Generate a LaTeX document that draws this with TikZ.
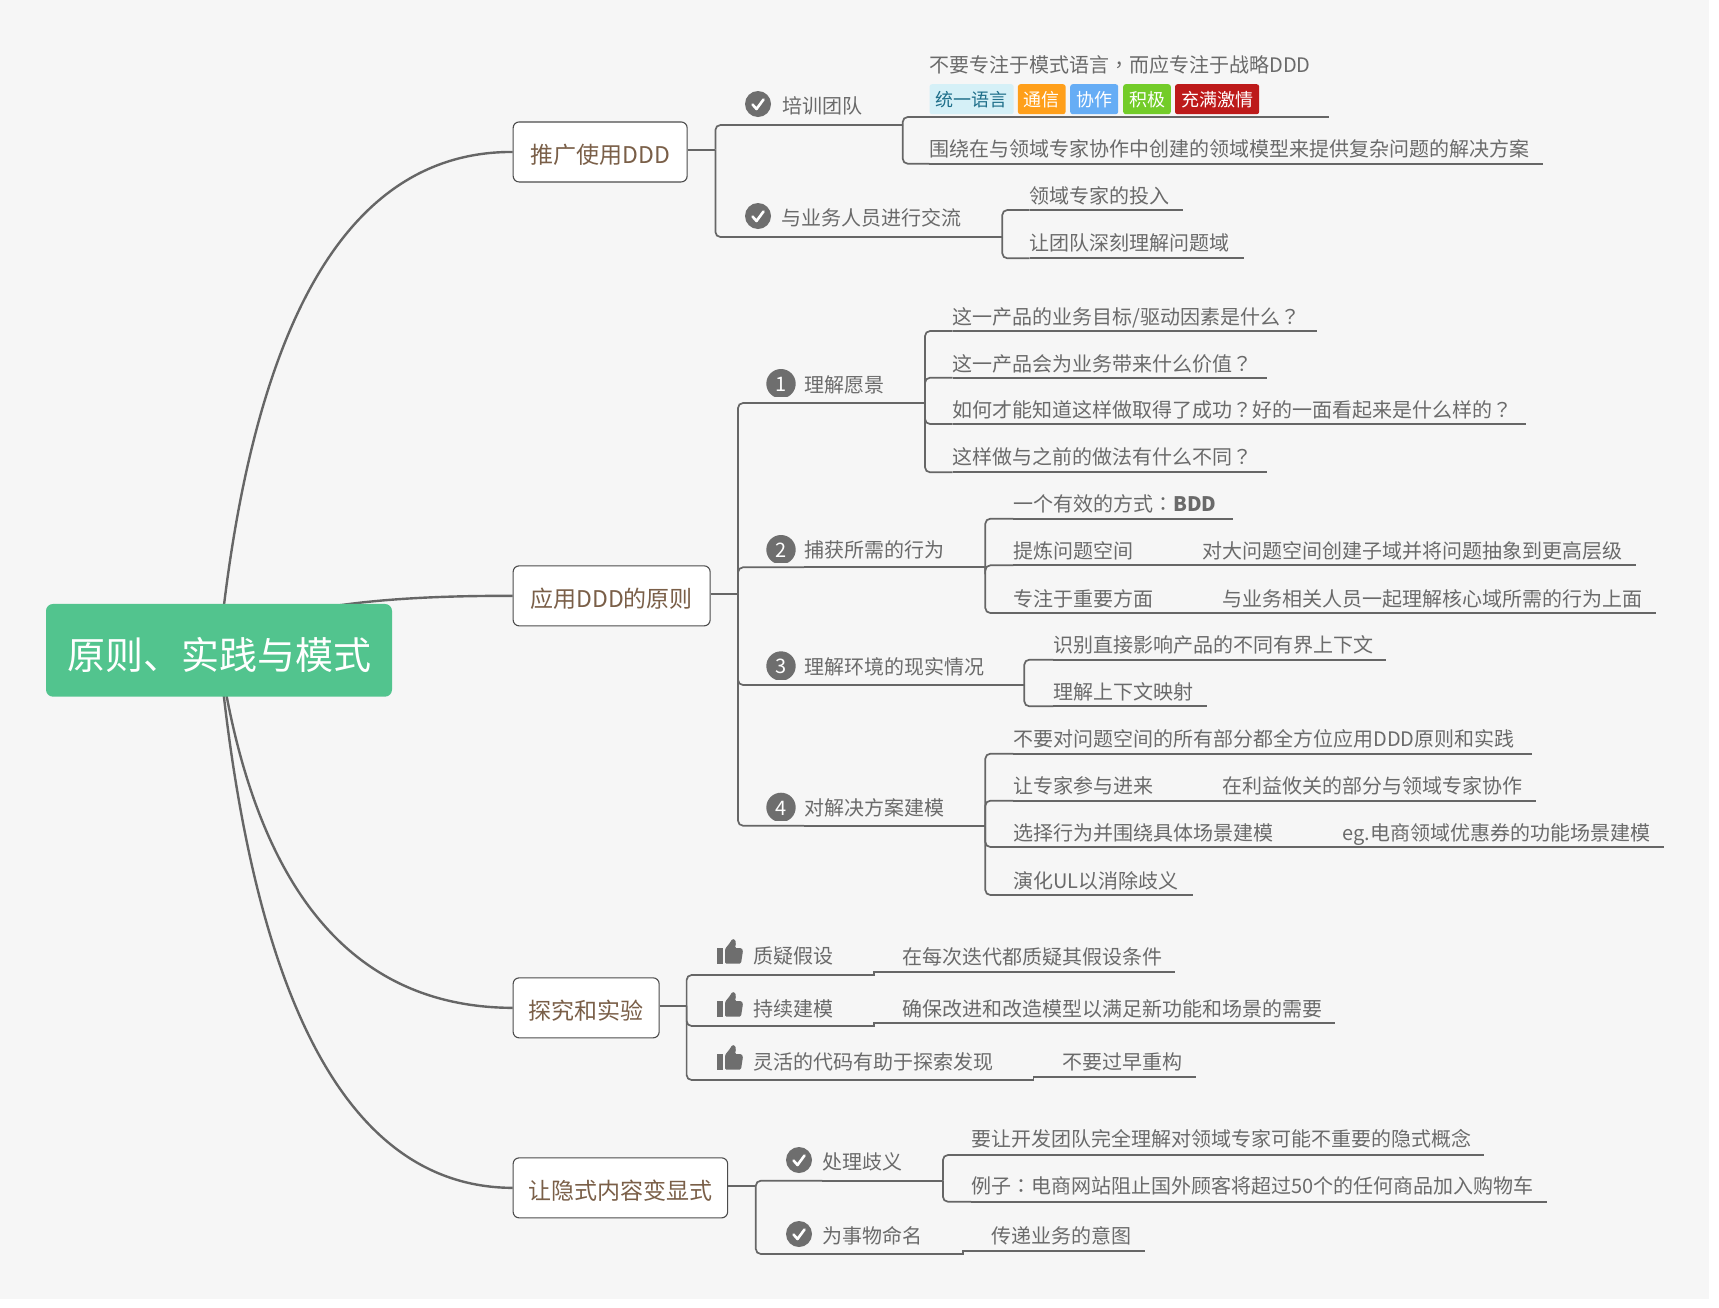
\documentclass[tikz,border=0pt]{standalone}
\usepackage{fontspec}
\setmainfont{Noto Sans CJK SC}
\newfontfamily\pf{Noto Sans CJK TC}
\usetikzlibrary{backgrounds}
\definecolor{bgc}{HTML}{F6F6F6}
\definecolor{linec}{HTML}{666666}
\definecolor{textc}{HTML}{6A6A6A}
\definecolor{brownc}{HTML}{7A5F48}
\definecolor{rootc}{HTML}{52C48E}
\definecolor{iconc}{HTML}{6E6E6E}
\definecolor{tagA}{HTML}{D5F0F7}
\definecolor{tagAt}{HTML}{1F6F8A}
\definecolor{tagB}{HTML}{FF9F1A}
\definecolor{tagC}{HTML}{66ADF5}
\definecolor{tagD}{HTML}{73CC29}
\definecolor{tagE}{HTML}{BD1A1A}
\tikzset{
  rootbox/.style={rectangle,rounded corners=7pt,fill=rootc,text=white,minimum width=346pt,minimum height=92.7pt,inner sep=0pt,text height=38.2pt,text depth=0pt,font=\fontsize{38pt}{44pt}\selectfont},
  mainbox/.style={rectangle,rounded corners=6pt,fill=white,draw=black!70,line width=1.1pt,text=brownc,minimum height=60pt,inner sep=0pt,anchor=north west,text height=23.4pt,text depth=0pt,font=\fontsize{23pt}{28pt}\selectfont},
  textline/.style={rectangle,inner sep=0pt,outer sep=0pt,anchor=south west,text=textc,text height=18pt,font=\fontsize{20pt}{24pt}\selectfont},
  curve/.style={draw=linec,line width=2.4pt},
  conn/.style={draw=linec,line width=1.7pt},
  elbow/.style={conn,rounded corners=5pt},
  tagbox/.style={rectangle,rounded corners=2.5pt,inner sep=0pt,minimum height=30pt,anchor=north west,font=\fontsize{18pt}{22pt}\selectfont},
  numdigit/.style={circle,inner sep=0pt,text=white,font=\fontsize{20pt}{24pt}\selectfont},
  checkicon/.pic={
    \fill[iconc] (0,0) circle (13);
    \draw[white,line width=2.6pt,line cap=round,line join=round] (-5.5,0.5) -- (-1.5,5) -- (5.5,-4.5);
  },
  numicon/.pic={
    \begin{scope}
      \clip (-16,-16) rectangle (16,13);
      \fill[iconc] (0,0) circle (14.7);
    \end{scope}
  },
  thumbicon/.pic={
    \fill[iconc] (0,9) rectangle (6,24.5);
    \fill[iconc,rounded corners=1.2pt] (8,10) -- (13.5,3) -- (15,0) -- (18,0.5) -- (19,4) -- (18,9) -- (24.5,9) -- (26,11.5) -- (24,24.5) -- (8,24.5) -- cycle;
  },
}
\newcommand{\tnode}[6][7]{%
  \pgfmathsetmacro{\mywidth}{#5-#3}%
  \node[textline,text depth=#1pt] (#2) at (#3,#4) {\makebox[\mywidth pt][l]{#6}};%
  \begin{scope}[on background layer]\draw[conn] (#2.south west) -- (#2.south east);\end{scope}%
}
\begin{document}
\begin{tikzpicture}[x=1pt,y=-1pt]
\useasboundingbox (0,0) rectangle (1719,1307);
\begin{scope}[on background layer]
  \fill[white] (0,0) rectangle (1719,1307);
  \fill[bgc] (0,0) rectangle (1709,1299);
\end{scope}

% root and main topics
\node[rootbox] (root) at (219,650.3) {原则、实践与模式};
\node[mainbox,minimum width=174pt] (T1) at (512.6,121.4) {推广使用DDD};
\node[mainbox,minimum width=197pt] (T2) at (512.6,565.3) {应用DDD的原则};
\node[mainbox,minimum width=146pt] (T3) at (512.6,977.3) {探究和实验};
\node[mainbox,minimum width=214.5pt] (T4) at (512.6,1157.3) {让隐式内容变显式};

\begin{scope}[on background layer]
  \draw[curve] (root.center) .. controls (251.8,318) and (349.5,151.4) .. (T1.west);
  \draw[curve] (root.center) .. controls (251.8,613.3) and (349.3,595.3) .. (T2.west);
  \draw[curve] (root.center) .. controls (253.2,888.2) and (350.8,1007.3) .. (T3.west);
  \draw[curve] (root.center) .. controls (253.2,1008) and (350.8,1187.3) .. (T4.west);
\end{scope}

% section 1
\coordinate (t1) at (715.4,149.7);
\tnode[11.8]{b11}{782}{125}{874}{培训团队}
\tnode[11.8]{b12}{781.3}{237}{972.8}{与业务人员进行交流}
\coordinate (e11) at (902.7,125);
\coordinate (e12) at (1002.3,237);
\tnode[44.3]{l111}{929.3}{117}{1329}{不要专注于模式语言{\pf ，}而应专注于战略DDD}
\tnode{l112}{929.3}{163.7}{1543}{围绕在与领域专家协作中创建的领域模型来提供复杂问题的解决方案}
\tnode{l121}{1029.6}{210}{1183}{领域专家的投入}
\tnode[8]{l122}{1029.6}{258.3}{1243.6}{让团队深刻理解问题域}
\node[tagbox,fill=tagA,text=tagAt,minimum width=84.2pt] (tag1) at (929.3,84) {统一语言};
\node[tagbox,fill=tagB,text=white,minimum width=47.7pt] (tag2) at (1017.7,84) {通信};
\node[tagbox,fill=tagC,text=white,minimum width=48pt] (tag3) at (1070,84) {协作};
\node[tagbox,fill=tagD,text=white,minimum width=47.6pt] (tag4) at (1123,84) {积极};
\node[tagbox,fill=tagE,text=white,minimum width=84.2pt] (tag5) at (1174.8,84) {充满激情};

\pic at (758,104) {checkicon};
\pic at (758,216) {checkicon};

\begin{scope}[on background layer]
  \draw[conn] (T1.east |- t1) -- (t1);
  \draw[elbow] (b11.south west) -| (t1);
  \draw[elbow] (b12.south west) -| (t1);
  \draw[conn] (b11.south east) -- (e11);
  \draw[conn] (b12.south east) -- (e12);
  \draw[elbow] (l111.south west) -| (e11);
  \draw[elbow] (l112.south west) -| (e11);
  \draw[elbow] (l121.south west) -| (e12);
  \draw[elbow] (l122.south west) -| (e12);
\end{scope}

% section 2
\coordinate (t2) at (738,593.7);
\tnode[10.3]{b21}{804}{403}{897.3}{理解愿景}
\tnode[10.3]{b22}{804}{567.3}{957.3}{捕获所需的行为}
\tnode[10.3]{b23}{804}{685}{996.7}{理解环境的现实情况}
\tnode[10.3]{b24}{804}{825.7}{957.3}{对解决方案建模}
\coordinate (e21) at (925,403);
\coordinate (e22) at (985.3,567.3);
\coordinate (e23) at (1024.3,685);
\coordinate (e24) at (985.3,825.7);

\tnode{l211}{952.7}{331}{1316.7}{这一产品的业务目标/驱动因素是什么{\pf ？}}
\tnode[6.2]{l212}{952.7}{377.7}{1266.7}{这一产品会为业务带来什么价值{\pf ？}}
\tnode[6.2]{l213}{952.7}{424}{1526.3}{如何才能知道这样做取得了成功{\pf ？}好的一面看起来是什么样的{\pf ？}}
\tnode[7.5]{l214}{952.7}{472.3}{1266.7}{这样做与之前的做法有什么不同{\pf ？}}

\tnode{l221}{1013.3}{518.7}{1232.7}{一个有效的方式{\pf ：}\textbf{BDD}}
\tnode{l222}{1013.3}{565.3}{1146.7}{提炼问题空间}
\tnode{l222a}{1202.7}{565.3}{1635.7}{对大问题空间创建子域并将问题抽象到更高层级}
\tnode{l223}{1013.3}{613}{1165.7}{专注于重要方面}
\tnode{l223a}{1222.3}{613}{1655.7}{与业务相关人员一起理解核心域所需的行为上面}

\tnode{l231}{1053.3}{659.7}{1386.3}{识别直接影响产品的不同有界上下文}
\tnode{l232}{1053.3}{706.3}{1206.7}{理解上下文映射}

\tnode{l241}{1013.3}{753.7}{1532.3}{不要对问题空间的所有部分都全方位应用DDD原则和实践}
\tnode{l242}{1013.3}{800.7}{1165.7}{让专家参与进来}
\tnode{l242a}{1222.3}{800.7}{1535.7}{在利益攸关的部分与领域专家协作}
\tnode{l243}{1013.3}{847}{1285.7}{选择行为并围绕具体场景建模}
\tnode{l243a}{1342.3}{847}{1664}{eg.电商领域优惠券的功能场景建模}
\tnode{l244}{1013.3}{895}{1193.3}{演化UL以消除歧义}

\pic at (781,383.7) {numicon};
\pic at (781,549.7) {numicon};
\pic at (781,666) {numicon};
\pic at (781,807.4) {numicon};
\node[numdigit] (n1) at (781,384.2) {1};
\node[numdigit] (n2) at (781,550.2) {2};
\node[numdigit] (n3) at (781,666.5) {3};
\node[numdigit] (n4) at (781,807.9) {4};

\begin{scope}[on background layer]
  \draw[conn] (T2.east |- t2) -- (t2);
  \draw[elbow] (b21.south west) -| (t2);
  \draw[elbow] (b22.south west) -| (t2);
  \draw[elbow] (b23.south west) -| (t2);
  \draw[elbow] (b24.south west) -| (t2);
  \draw[conn] (b21.south east) -- (e21);
  \draw[conn] (b22.south east) -- (e22);
  \draw[conn] (b23.south east) -- (e23);
  \draw[conn] (b24.south east) -- (e24);
  \foreach \n in {l211,l212,l213,l214} {\draw[elbow] (\n.south west) -| (e21);}
  \foreach \n in {l221,l222,l223} {\draw[elbow] (\n.south west) -| (e22);}
  \foreach \n in {l231,l232} {\draw[elbow] (\n.south west) -| (e23);}
  \foreach \n in {l241,l242,l243,l244} {\draw[elbow] (\n.south west) -| (e24);}
  \draw[conn] (l222.south east) -- (l222a.south west);
  \draw[conn] (l223.south east) -- (l223a.south west);
  \draw[conn] (l242.south east) -- (l242a.south west);
  \draw[conn] (l243.south east) -- (l243a.south west);
\end{scope}

% section 3
\coordinate (t3) at (686.6,1005.7);
\tnode[12]{b31}{753}{975}{848}{质疑假设}
\tnode[9.5]{b32}{753}{1026}{848}{持续建模}
\tnode[11]{b33}{753}{1080}{1006.7}{灵活的代码有助于探索发现}
\coordinate (e31) at (874,972);
\coordinate (e32) at (874,1022.7);
\coordinate (e33) at (1033.5,1076.7);
\tnode[8]{l31}{902.7}{972}{1175}{在每次迭代都质疑其假设条件}
\tnode[6]{l32}{902.7}{1022.7}{1334.7}{确保改进和改造模型以满足新功能和场景的需要}
\tnode{l33}{1062.5}{1076.7}{1196}{不要过早重构}
\pic at (717,939) {thumbicon};
\pic at (717,992) {thumbicon};
\pic at (717,1045) {thumbicon};

\begin{scope}[on background layer]
  \draw[conn] (T3.east |- t3) -- (t3);
  \draw[elbow] (b31.south west) -| (t3);
  \draw[elbow] (b32.south west) -| (t3);
  \draw[elbow] (b33.south west) -| (t3);
  \draw[conn] (b31.south east) -| (e31) -- (l31.south west);
  \draw[conn] (b32.south east) -| (e32) -- (l32.south west);
  \draw[conn] (b33.south east) -| (e33) -- (l33.south west);
\end{scope}

% section 4
\coordinate (t4) at (755.8,1186);
\tnode[11.5]{b41}{822.3}{1180.7}{916}{处理歧义}
\tnode[11]{b42}{822.3}{1254}{935.3}{为事物命名}
\coordinate (e41) at (942.9,1180.7);
\coordinate (e42) at (963,1251.3);
\tnode[8.3]{l41}{971}{1155}{1484.3}{要让开发团队完全理解对领域专家可能不重要的隐式概念}
\tnode[8]{l42}{971}{1201.7}{1546.7}{例子{\pf ：}电商网站阻止国外顾客将超过50个的任何商品加入购物车}
\tnode[7.5]{l43}{991}{1251.3}{1144.6}{传递业务的意图}
\pic at (799,1160) {checkicon};
\pic at (799,1234) {checkicon};

\begin{scope}[on background layer]
  \draw[conn] (T4.east |- t4) -- (t4);
  \draw[elbow] (b41.south west) -| (t4);
  \draw[elbow] (b42.south west) -| (t4);
  \draw[conn] (b41.south east) -- (e41);
  \draw[conn] (b42.south east) -| (e42) -- (l43.south west);
  \draw[elbow] (l41.south west) -| (e41);
  \draw[elbow] (l42.south west) -| (e41);
\end{scope}
\end{tikzpicture}
\end{document}
